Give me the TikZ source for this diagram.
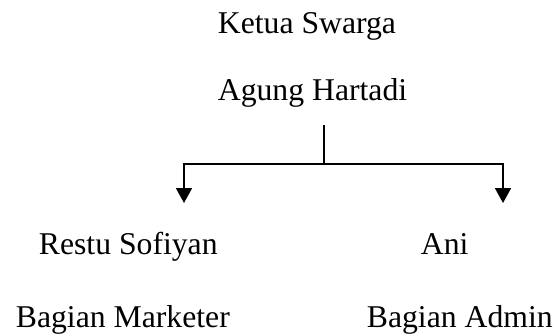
\documentclass[tikz,border=0pt]{standalone}
\usepackage{fontspec}
\setmainfont{Liberation Serif}
\usetikzlibrary{arrows.meta}

\begin{document}
\begin{tikzpicture}[x=1pt, y=-1pt, >={Triangle[width=16pt,length=15pt]}, line width=1.8pt,
    person/.style={anchor=base west, inner sep=0pt, font=\fontsize{31.7}{38}\selectfont}]
    \useasboundingbox (0,0) rectangle (556,335);

    \node[person] (ketua) at (217,33) {Ketua Swarga};
    \node[person] (agung) at (217,100) {Agung Hartadi};
    \node[person] (restu) at (38,254) {Restu Sofiyan};
    \node[person] (marketer) at (15,327) {Bagian Marketer};
    \node[person] (ani) at (420,254) {Ani};
    \node[person] (admin) at (366,327) {Bagian Admin};

    \coordinate (top) at (324,125);
    \coordinate (fork) at (324,164);
    \coordinate (L) at (184,203);
    \coordinate (R) at (503,203);

    \draw (top) -- (fork);
    \draw[->] (fork) -| (L);
    \draw[->] (fork) -| (R);
\end{tikzpicture}
\end{document}
